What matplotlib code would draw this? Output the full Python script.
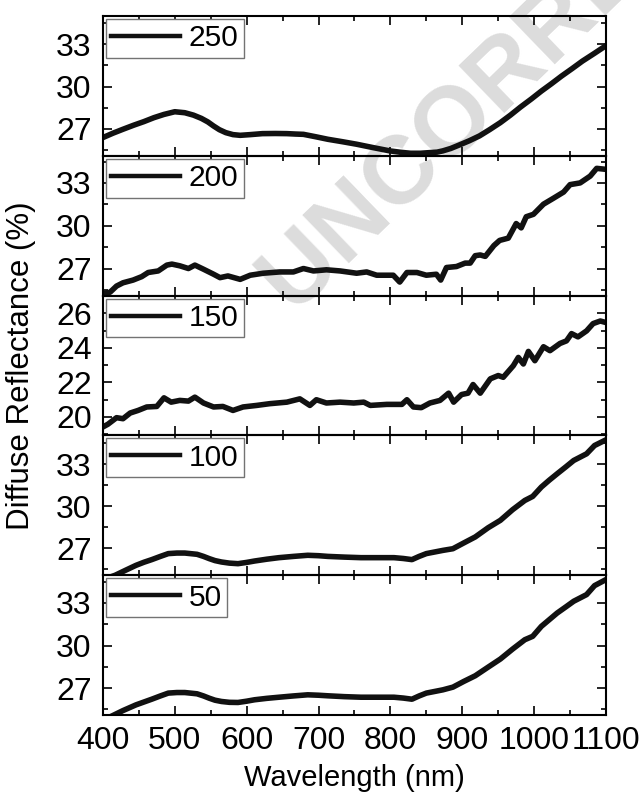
import matplotlib
matplotlib.use('Agg')
import matplotlib.pyplot as plt
from matplotlib.ticker import MultipleLocator

plt.rcParams['font.family'] = ['Liberation Sans', 'DejaVu Sans']

# values, top panel first
labels = ['250', '200', '150', '100', '50']

wl_250 = [400, 414, 428, 443, 457, 471, 485, 500, 514, 526, 537, 546, 554, 562, 571, 581,
          591, 605, 622, 640, 656, 668, 679, 696, 713, 733, 753, 776, 799, 814, 828, 842,
          856, 865, 873, 884, 896, 910, 924, 938, 953, 967, 981, 996, 1010, 1024, 1038,
          1053, 1067, 1084, 1100]
r_250 = [26.39, 26.70, 26.98, 27.27, 27.52, 27.80, 28.03, 28.22, 28.15, 27.98, 27.75,
         27.50, 27.21, 26.95, 26.74, 26.60, 26.55, 26.60, 26.67, 26.68, 26.67, 26.64,
         26.62, 26.45, 26.27, 26.10, 25.92, 25.68, 25.45, 25.35, 25.28, 25.28, 25.33,
         25.36, 25.45, 25.62, 25.87, 26.17, 26.51, 26.95, 27.45, 27.98, 28.55, 29.12,
         29.68, 30.20, 30.74, 31.28, 31.80, 32.36, 32.90]

wl_200 = [400, 410, 419, 428, 442, 454, 463, 477, 489, 496, 507, 519, 528, 540, 554, 563,
          574, 591, 605, 623, 646, 665, 679, 693, 711, 730, 753, 767, 781, 804, 813, 823,
          837, 850, 864, 870, 878, 892, 904, 911, 918, 925, 932, 944, 952, 964, 975, 982,
          989, 999, 1013, 1027, 1041, 1050, 1064, 1078, 1087, 1100]
r_200 = [25.24, 25.34, 25.77, 26.00, 26.19, 26.43, 26.72, 26.83, 27.24, 27.31, 27.19,
         27.00, 27.24, 26.95, 26.60, 26.36, 26.48, 26.24, 26.53, 26.67, 26.76, 26.76,
         27.00, 26.83, 26.91, 26.83, 26.67, 26.76, 26.53, 26.53, 26.05, 26.72, 26.72,
         26.53, 26.60, 26.19, 27.07, 27.14, 27.38, 27.38, 27.90, 27.95, 27.85, 28.61,
         28.97, 29.13, 30.15, 29.85, 30.63, 30.80, 31.51, 31.93, 32.36, 32.88, 33.00,
         33.48, 34.02, 33.95]

wl_150 = [400, 407, 419, 428, 438, 449, 461, 475, 485, 495, 507, 519, 528, 540, 554, 567,
          581, 595, 614, 632, 656, 674, 688, 697, 711, 730, 749, 763, 772, 795, 816, 823,
          832, 843, 855, 869, 881, 888, 899, 908, 915, 925, 939, 950, 957, 971, 978, 985,
          992, 1001, 1013, 1022, 1036, 1045, 1052, 1061, 1073, 1082, 1092, 1100]
r_150 = [19.42, 19.58, 19.96, 19.90, 20.23, 20.38, 20.58, 20.61, 21.11, 20.86, 20.96,
         20.92, 21.15, 20.81, 20.58, 20.61, 20.38, 20.58, 20.67, 20.77, 20.86, 21.05,
         20.67, 21.00, 20.81, 20.86, 20.81, 20.86, 20.67, 20.73, 20.73, 21.00, 20.58,
         20.54, 20.81, 20.96, 21.38, 20.86, 21.30, 21.38, 21.88, 21.38, 22.21, 22.40,
         22.30, 22.97, 23.45, 23.07, 23.80, 23.26, 24.07, 23.84, 24.26, 24.41, 24.83,
         24.64, 24.99, 25.41, 25.56, 25.47]

wl_100 = [400, 417, 432, 446, 457, 468, 480, 491, 503, 514, 531, 540, 548, 556, 565, 576,
          588, 600, 611, 628, 645, 665, 685, 700, 713, 736, 759, 782, 805, 818, 830, 840,
          850, 862, 873, 887, 902, 918, 936, 953, 970, 987, 998, 1010, 1021, 1032, 1044,
          1055, 1073, 1084, 1100]
r_100 = [24.74, 25.05, 25.42, 25.76, 25.98, 26.17, 26.40, 26.60, 26.64, 26.64, 26.55,
         26.40, 26.24, 26.10, 26.00, 25.92, 25.88, 25.97, 26.07, 26.20, 26.31, 26.40,
         26.48, 26.45, 26.40, 26.35, 26.31, 26.31, 26.31, 26.25, 26.17, 26.40, 26.60,
         26.72, 26.83, 26.95, 27.36, 27.79, 28.45, 28.98, 29.74, 30.40, 30.69, 31.36,
         31.85, 32.31, 32.80, 33.26, 33.74, 34.33, 34.74]

wl_50 = [400, 411, 428, 446, 457, 468, 480, 491, 503, 514, 531, 540, 548, 556, 565, 576,
         588, 600, 611, 628, 645, 665, 685, 700, 713, 736, 759, 782, 805, 818, 830, 840,
         850, 862, 873, 887, 902, 918, 936, 953, 970, 987, 998, 1010, 1021, 1032, 1044,
         1055, 1073, 1084, 1100]
r_50 = [24.70, 25.00, 25.42, 25.82, 26.02, 26.22, 26.45, 26.65, 26.69, 26.69, 26.60,
        26.45, 26.29, 26.15, 26.06, 26.00, 25.99, 26.08, 26.18, 26.28, 26.36, 26.45,
        26.53, 26.50, 26.46, 26.40, 26.36, 26.36, 26.36, 26.30, 26.22, 26.45, 26.65,
        26.77, 26.88, 27.07, 27.47, 27.87, 28.48, 29.05, 29.75, 30.41, 30.65, 31.35,
        31.82, 32.29, 32.72, 33.12, 33.59, 34.22, 34.65]

x_series = [wl_250, wl_200, wl_150, wl_100, wl_50]
y_series = [r_250, r_200, r_150, r_100, r_50]
y_limits = [(25.1, 35.0), (25.1, 34.9), (18.93, 27.03), (25.05, 35.05), (25.1, 34.95)]
y_major = [3, 3, 2, 3, 3]

fig, axes = plt.subplots(5, 1, sharex=True, figsize=(6.43, 7.99), dpi=100)
fig.subplots_adjust(left=0.160, right=0.9425, top=0.980, bottom=0.105, hspace=0)

for ax, xs, ys, lab, lim, step in zip(axes, x_series, y_series, labels, y_limits, y_major):
    ax.patch.set_visible(False)
    ax.plot(xs, ys, color='#111111', lw=4, label=lab, solid_joinstyle='round')
    ax.set_xlim(400, 1100)
    ax.set_ylim(*lim)
    ax.xaxis.set_major_locator(MultipleLocator(100))
    ax.xaxis.set_minor_locator(MultipleLocator(50))
    ax.yaxis.set_major_locator(MultipleLocator(step))
    ax.yaxis.set_minor_locator(MultipleLocator(step / 2))
    ax.tick_params(which='both', direction='in', top=True, right=True, width=1.2,
                   labelsize=23)
    ax.tick_params(which='major', length=6.5, pad=8)
    ax.tick_params(which='minor', length=3.3)
    for s in ax.spines.values():
        s.set_linewidth(1.5)
    leg = ax.legend(loc='upper left', fontsize=21.5, handlelength=2.3, handletextpad=0.3,
                    borderpad=0.18, borderaxespad=0.1, fancybox=False, edgecolor='0.45',
                    framealpha=1)
    leg.get_frame().set_linewidth(1.0)
    leg.get_lines()[0].set_linewidth(3.2)

fig.text(0.033, 0.5426, 'Diffuse Reflectance (%)', rotation=90, ha='center', va='center',
         fontsize=22.5)
fig.text(0.551, 0.026, 'Wavelength (nm)', ha='center', va='center', fontsize=21)

# watermark behind everything
fig.text(0.43, 0.627, 'UNCORRECTED PROOF', rotation=44, rotation_mode='anchor',
         ha='left', va='center', fontsize=70, fontweight='bold', color='#dcdcdc',
         zorder=-1)

fig.savefig('out.png', dpi=100)
